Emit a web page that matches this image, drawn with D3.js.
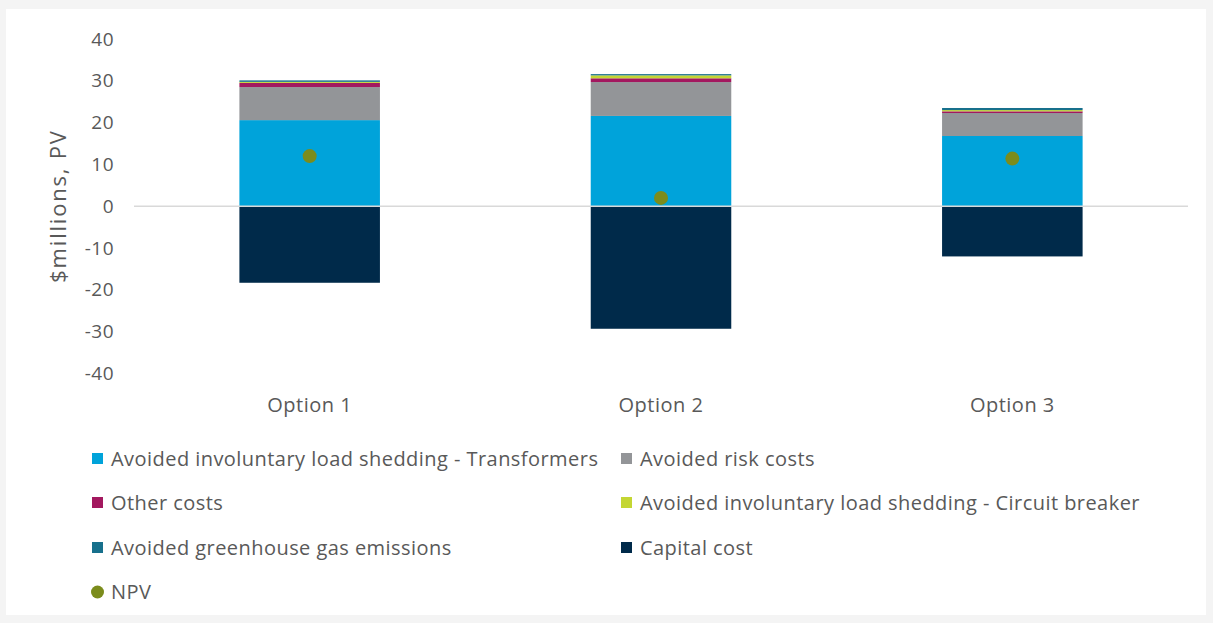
<!DOCTYPE html>
<html><head><meta charset="utf-8">
<script src="https://cdn.jsdelivr.net/npm/d3@7/dist/d3.min.js"></script>
<style>
html,body{margin:0;padding:0;background:#f4f4f4;}
svg{display:block;}
text{font-family:"Open Sans",Lato,sans-serif;fill:#595959;}
</style></head>
<body>
<svg id="c" width="1213" height="623"></svg>
<script>
const categories = ["Option 1", "Option 2", "Option 3"];
const transformers = [20.6, 21.6, 16.8];
const riskCosts = [7.9, 8.1, 5.5];
const otherCosts = [1.0, 0.9, 0.4];
const circuitBreaker = [0.25, 0.7, 0.3];
const ghgEmissions = [0.35, 0.3, 0.5];
const capitalCost = [-18.3, -29.3, -12.0];
const npv = [12.0, 2.0, 11.4];
const yTicks = [40, 30, 20, 10, 0, -10, -20, -30, -40];

const seriesNames = ["Avoided involuntary load shedding - Transformers", "Avoided risk costs",
  "Other costs", "Avoided involuntary load shedding - Circuit breaker",
  "Avoided greenhouse gas emissions", "Capital cost"];
const seriesValues = [transformers, riskCosts, otherCosts, circuitBreaker, ghgEmissions, capitalCost];
const colors = ["#00A3DA", "#939598", "#A3185F", "#C4D633", "#17708C", "#002A4A"];
const npvColor = "#7B8C1C";

const svg = d3.select("#c");
svg.append("rect").attr("x", 6).attr("y", 9).attr("width", 1200).attr("height", 606).attr("fill", "#fff");

const x = d3.scaleBand().domain(categories).range([134, 1188]).padding(0);
const y = d3.scaleLinear().domain([-40, 40]).range([373.5, 39]);
const barW = x.bandwidth() * 0.4;

categories.forEach((c, i) => {
  let pos = 0, neg = 0;
  seriesValues.forEach((vals, s) => {
    const v = vals[i];
    let y0, y1;
    if (v >= 0) { y0 = pos; y1 = pos + v; pos = y1; }
    else { y0 = neg; y1 = neg + v; neg = y1; }
    svg.append("rect")
      .attr("x", x(c) + (x.bandwidth() - barW) / 2)
      .attr("width", barW)
      .attr("y", y(Math.max(y0, y1)))
      .attr("height", Math.abs(y(y0) - y(y1)))
      .attr("fill", colors[s]);
  });
});

svg.append("line").attr("x1", 134).attr("x2", 1188).attr("y1", y(0)).attr("y2", y(0))
  .attr("stroke", "#d9d9d9").attr("stroke-width", 1.5);

svg.selectAll(".npv").data(npv).enter().append("circle")
  .attr("cx", (d, i) => x(categories[i]) + x.bandwidth() / 2)
  .attr("cy", d => y(d)).attr("r", 7).attr("fill", npvColor);

const yAxis = d3.axisLeft(y).tickValues(yTicks).tickSize(0).tickPadding(0).tickFormat(d => String(d));
const ga = svg.append("g").attr("transform", "translate(114,0)").call(yAxis);
ga.select(".domain").remove();
ga.selectAll("text").style("font-size", "19px").style("fill", "#595959")
  .style("font-family", "'Open Sans',sans-serif").style("letter-spacing", "0.5px");

const xAxis = d3.axisBottom(x).tickSize(0).tickPadding(0);
const gx = svg.append("g").attr("transform", "translate(0,398)").call(xAxis);
gx.select(".domain").remove();
gx.selectAll("text").style("font-size", "20px").style("fill", "#595959")
  .style("font-family", "'Open Sans',sans-serif").style("letter-spacing", "0.5px");

svg.append("text").attr("transform", "translate(66,206) rotate(-90)")
  .attr("text-anchor", "middle").style("font-size", "22px").style("letter-spacing", "1.8px")
  .text("$millions, PV");

const legendPos = [[92, 459], [621, 459], [92, 503], [621, 503], [92, 548], [621, 548]];
seriesNames.forEach((n, i) => {
  const [lx, ly] = legendPos[i];
  svg.append("rect").attr("x", lx).attr("y", ly - 6).attr("width", 11).attr("height", 11).attr("fill", colors[i]);
  svg.append("text").attr("x", lx + 19).attr("y", ly).attr("dy", "0.35em")
    .style("font-size", "20px").style("letter-spacing", "0.45px").text(n);
});
svg.append("circle").attr("cx", 97.5).attr("cy", 592).attr("r", 6.5).attr("fill", npvColor);
svg.append("text").attr("x", 111).attr("y", 592).attr("dy", "0.35em")
  .style("font-size", "20px").style("letter-spacing", "0.45px").text("NPV");
</script>
</body></html>
